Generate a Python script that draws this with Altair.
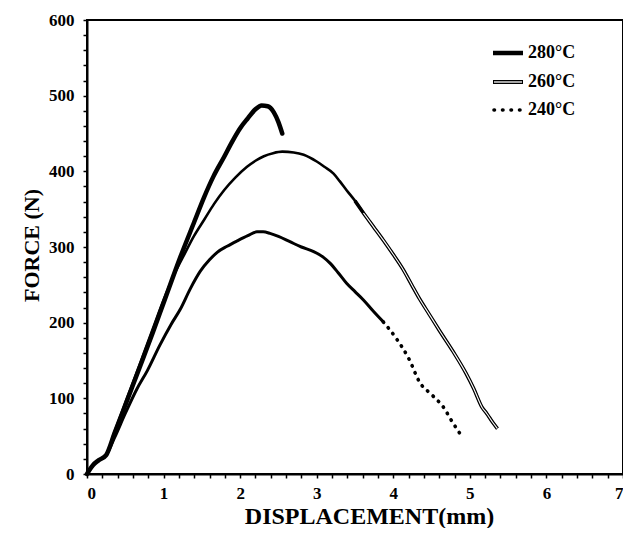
import altair as alt
import pandas as pd

# ---- data ----
x_280 = [0, 0.03, 0.08, 0.15, 0.25, 0.36, 0.53, 0.70, 0.86, 1.0, 1.22, 1.40, 1.53, 1.65, 1.79, 1.90,
         2.0, 2.1, 2.2, 2.28, 2.36, 2.44, 2.50, 2.55]
y_280 = [0, 5, 12, 18, 25, 54, 99, 144, 187, 226, 287, 333, 366, 393, 419, 440,
         457, 470, 482, 487, 486, 478, 465, 450]

x_260 = [0, 0.03, 0.08, 0.15, 0.25, 0.36, 0.53, 0.70, 0.86, 1.0, 1.15, 1.27, 1.40, 1.53, 1.66, 1.79,
         1.94, 2.09, 2.2, 2.31, 2.43, 2.55, 2.7, 2.83, 3.0, 3.1, 3.22, 3.3, 3.39, 3.5, 3.61, 3.74,
         3.87, 4.0, 4.13, 4.24, 4.34, 4.47, 4.6, 4.78, 4.95, 5.05, 5.16, 5.22, 5.3, 5.36]
y_260 = [0, 5, 12, 18, 25, 56, 102, 148, 192, 230, 266, 290, 315, 336, 357, 375,
         392, 406, 414, 420, 424, 426, 425, 422, 413, 406, 397, 387, 375, 361, 345, 327,
         309, 290, 270, 250, 232, 211, 190, 162, 133, 113, 88, 80, 68, 60]

x_240 = [0, 0.03, 0.08, 0.15, 0.25, 0.36, 0.5, 0.65, 0.79, 0.95, 1.1, 1.22, 1.35, 1.48, 1.6, 1.70,
         1.83, 1.96, 2.1, 2.22, 2.3, 2.39, 2.5, 2.65, 2.8, 2.96, 3.08, 3.17, 3.28, 3.39, 3.5, 3.61,
         3.74, 3.87, 4.04, 4.21, 4.34, 4.51, 4.65, 4.77, 4.88]
y_240 = [0, 5, 12, 18, 25, 48, 80, 112, 137, 170, 198, 218, 245, 268, 283, 293,
         301, 308, 315, 320, 320, 318, 314, 307, 300, 294, 287, 279, 266, 252, 241, 230,
         215, 201, 179, 151, 122, 104, 89, 69, 52]

legend_labels = ["280°C", "260°C", "240°C"]
x_tick_values = [round(i * 0.2, 1) for i in range(36)]
y_tick_values = list(range(0, 601, 20))

FONT = "Liberation Serif"


def frame(xs, ys):
    return pd.DataFrame({"x": xs, "y": ys, "i": list(range(len(xs)))})


df280 = frame(x_280, y_280)
df260 = frame(x_260, y_260)
df240 = frame(x_240, y_240)

xscale = alt.Scale(domain=[0, 7], nice=False, zero=False)
yscale = alt.Scale(domain=[0, 600], nice=False)

xaxis = alt.Axis(
    values=x_tick_values,
    labelExpr="abs(datum.value - round(datum.value)) < 0.001 ? format(datum.value, 'd') : ''",
    title="DISPLACEMENT(mm)",
    labelFlush=True, labelOverlap=False, grid=False,
    tickSize=4, labelPadding=7,
    titleX=282, titleY=42, titleBaseline="middle", titleAnchor="middle", titleAlign="center",
    titleFontSize=24,
)
yaxis = alt.Axis(
    values=y_tick_values,
    labelExpr="datum.value % 100 == 0 ? format(datum.value, 'd') : ''",
    title="FORCE (N)",
    labelFlush=False, labelOverlap=False, grid=False,
    tickSize=4, labelPadding=9,
    titleX=-56, titleY=225, titleBaseline="middle", titleAlign="center", titleAngle=-90,
    titleFontSize=22,
)


def enc(chart):
    return chart.encode(
        x=alt.X("x:Q", scale=xscale, axis=xaxis),
        y=alt.Y("y:Q", scale=yscale, axis=yaxis),
        order="i:Q",
    )


l260 = enc(alt.Chart(df260).mark_line(color="black", strokeWidth=2.6, interpolate="monotone"))
l260b = enc(alt.Chart(df260).transform_filter("datum.x >= 3.5").mark_line(
    color="black", strokeWidth=3.6, interpolate="monotone"))
l260w = enc(alt.Chart(df260).transform_filter("datum.x >= 3.55").mark_line(
    color="white", strokeWidth=1.1, interpolate="monotone"))
l240s = enc(alt.Chart(df240).transform_filter("datum.x <= 3.87").mark_line(
    color="black", strokeWidth=3, interpolate="monotone"))
l240d = enc(alt.Chart(df240).transform_filter("datum.x >= 3.87").mark_line(
    color="black", strokeWidth=3.6, strokeDash=[0.5, 7], strokeCap="round", interpolate="monotone"))
l280 = enc(alt.Chart(df280).mark_line(color="black", strokeWidth=4.5, strokeCap="round",
                                      interpolate="monotone"))

one = pd.DataFrame({"k": [0]})
leg_x0, leg_x1, leg_tx = 406, 436, 441
leg_y = [33, 62, 90]

leg1 = alt.Chart(one).mark_rule(color="black", strokeWidth=4.5).encode(
    x=alt.value(leg_x0), x2=alt.value(leg_x1), y=alt.value(leg_y[0]))
leg2a = alt.Chart(one).mark_rule(color="black", strokeWidth=4).encode(
    x=alt.value(leg_x0), x2=alt.value(leg_x1), y=alt.value(leg_y[1]))
leg2b = alt.Chart(one).mark_rule(color="white", strokeWidth=1.3).encode(
    x=alt.value(leg_x0 + 1), x2=alt.value(leg_x1 - 1), y=alt.value(leg_y[1]))
leg3 = alt.Chart(one).mark_rule(color="black", strokeWidth=3.6, strokeDash=[0.5, 8], strokeCap="round").encode(
    x=alt.value(leg_x0 + 1), x2=alt.value(leg_x1), y=alt.value(leg_y[2]))

texts = [
    alt.Chart(one).mark_text(text=legend_labels[k], align="left", baseline="middle", font=FONT,
                             fontWeight="bold", fontSize=18, color="black").encode(
        x=alt.value(leg_tx), y=alt.value(leg_y[k]))
    for k in range(3)
]

chart = alt.layer(l260, l260b, l260w, l240s, l240d, l280, leg1, leg2a, leg2b, leg3, *texts).properties(
    width=536, height=454,
    autosize=alt.AutoSizeParams(type="none"),
    padding={"left": 79, "top": 12, "right": 0, "bottom": 54},
    background="white",
).configure_view(stroke="black", strokeWidth=2).configure_axis(
    domainColor="black", domainWidth=2, tickColor="black", tickWidth=1.5,
    labelFont=FONT, labelFontWeight="bold", labelFontSize=17, labelColor="black",
    titleFont=FONT, titleFontWeight="bold", titleColor="black",
)

chart.save("out.html", embed_options={"renderer": "svg", "actions": False})
